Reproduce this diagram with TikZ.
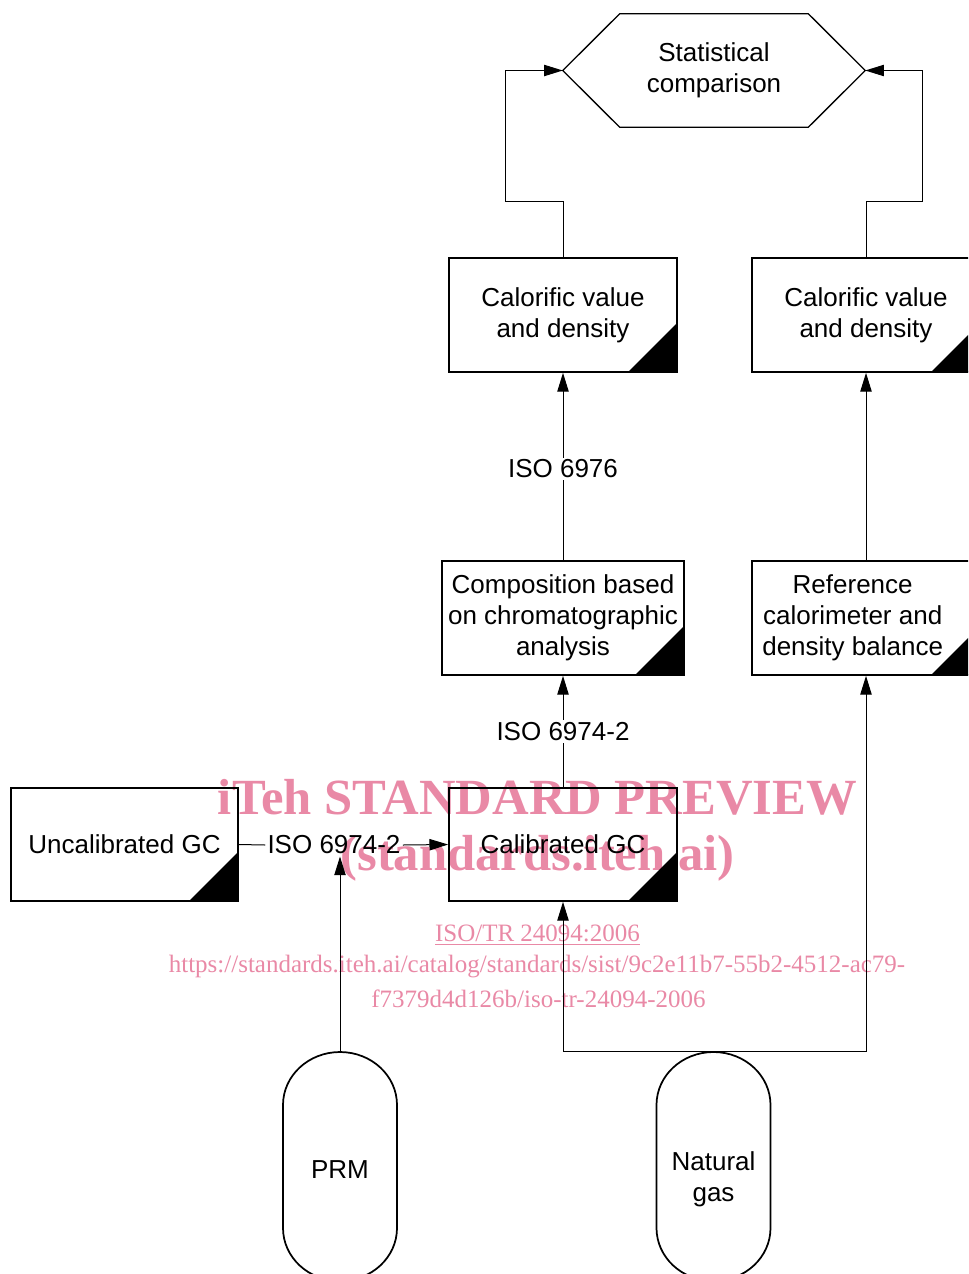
\documentclass[tikz,border=0pt]{standalone}
\usepackage{fontspec}
\setmainfont{Liberation Sans}
\newfontfamily\wmfont{Liberation Serif}
\usetikzlibrary{arrows.meta,calc}
\definecolor{wm}{RGB}{233,137,166}
\newcommand\capsule[4]{%
  \node[capnode] (#1) at (#2,1166.5) {};
  \node (#1t) at (#2,#4) {#3};
  \draw[boxline] (#2-57,1105) .. controls (#2-57,1075.7) and (#2-31.5,1052) .. (#2,1052)
    .. controls (#2+31.5,1052) and (#2+57,1075.7) .. (#2+57,1105) -- (#2+57,1228)
    .. controls (#2+57,1257.3) and (#2+31.5,1281) .. (#2,1281)
    .. controls (#2-31.5,1281) and (#2-57,1257.3) .. (#2-57,1228) -- cycle;}
\begin{document}
\begin{tikzpicture}[x=0.75pt,y=-0.75pt,
  every node/.style={font=\fontsize{19.5}{23.3}\selectfont, align=center, inner sep=0pt},
  boxline/.style={line width=1.3pt},
  corner/.style={path picture={\fill (path picture bounding box.south east) -- ++(-49,0) -- ++(49,-49) -- cycle;}},
  box/.style={draw, boxline, minimum width=171pt, minimum height=85.5pt, corner},
  capnode/.style={minimum width=85.5pt, minimum height=171.75pt},
  conn/.style={line width=0.75pt},
  arr/.style={conn, -{Triangle[length=14pt,width=8.5pt]}},
  lbl/.style={fill=white, inner sep=1.5pt},
  wmbig/.style={text=wm, font=\wmfont\bfseries\fontsize{38}{40}\selectfont},
  wmsmall/.style={text=wm, font=\wmfont\fontsize{18.75}{22}\selectfont}]
\useasboundingbox (0,0) rectangle (968,1274);
\clip (0,0) rectangle (968,1274);

% statistical comparison hexagon
\node[minimum width=226.5pt, minimum height=84.75pt] (hex) at (714,70.5) {Statistical\\comparison};
\draw[boxline, line width=1pt] (hex.west) -- ($(hex.north west)+(57,0)$) -- ($(hex.north east)+(-57,0)$)
  -- (hex.east) -- ($(hex.south east)+(-57,0)$) -- ($(hex.south west)+(57,0)$) -- cycle;

% boxes
\node[box] (cv1) at (563,315) {Calorific value\\and density};
\node[box] (cv2) at (866,315) {Calorific value\\and density};
\node[box, minimum width=181.5pt] (comp) at (563,618) {Composition based\\on chromatographic\\analysis};
\node[box] (ref) at (866,618) {\hspace*{-20pt}Reference\\\hspace*{-20pt}calorimeter and\\\hspace*{-20pt}density balance};
\node[box, minimum width=170.25pt, minimum height=84.75pt] (uncal) at (124.5,844.5) {Uncalibrated GC};
\node[box, minimum height=84.75pt] (cal) at (563,844.5) {Calibrated GC};

% cylinders
\capsule{prm}{340}{PRM}{1170}
\capsule{ng}{713.5}{Natural\\gas}{1179}

% connectors
\draw[arr] (cv1.north) -- ++(0,-56) -| ($(hex.west)+(-57,0)$) -- (hex.west);
\draw[arr] (cv2.north) -- ++(0,-56) -| ($(hex.east)+(57,0)$) -- (hex.east);
\draw[arr] (comp.north) -- node[lbl, pos=0.487] (l1) {ISO 6976} (cv1.south);
\draw[arr] (ref.north) -- (cv2.south);
\draw[arr] (cal.north) -- node[lbl] (l2) {ISO 6974-2} (comp.south);
\node[inner sep=1.5pt] (l3) at (334,845) {ISO 6974-2};
\draw[conn] (uncal.east) -- (l3.west);
\draw[arr] (l3.east) -- (cal.west);
\draw[arr] (prm.north) -- (prm.north |- l3.south);
\draw[arr] (ng.north) -| (cal.south);
\draw[arr] (ng.north) -| (ref.south);

% watermark
\begin{scope}[blend mode=multiply]
\node[wmbig] (wm1) at (537.5,797) {iTeh STANDARD PREVIEW};
\node[wmbig] (wm2) at (537.5,858) {(standards.iteh.ai)};
\node[wmsmall] (wm3) at (537.5,935) {\underline{ISO/TR 24094:2006}};
\node[wmsmall] (wm4) at (537,967) {https://standards.iteh.ai/catalog/standards/sist/9c2e11b7-55b2-4512-ac79-};
\node[wmsmall] (wm5) at (538.5,999) {f7379d4d126b/iso-tr-24094-2006};
\end{scope}
\end{tikzpicture}
\end{document}
